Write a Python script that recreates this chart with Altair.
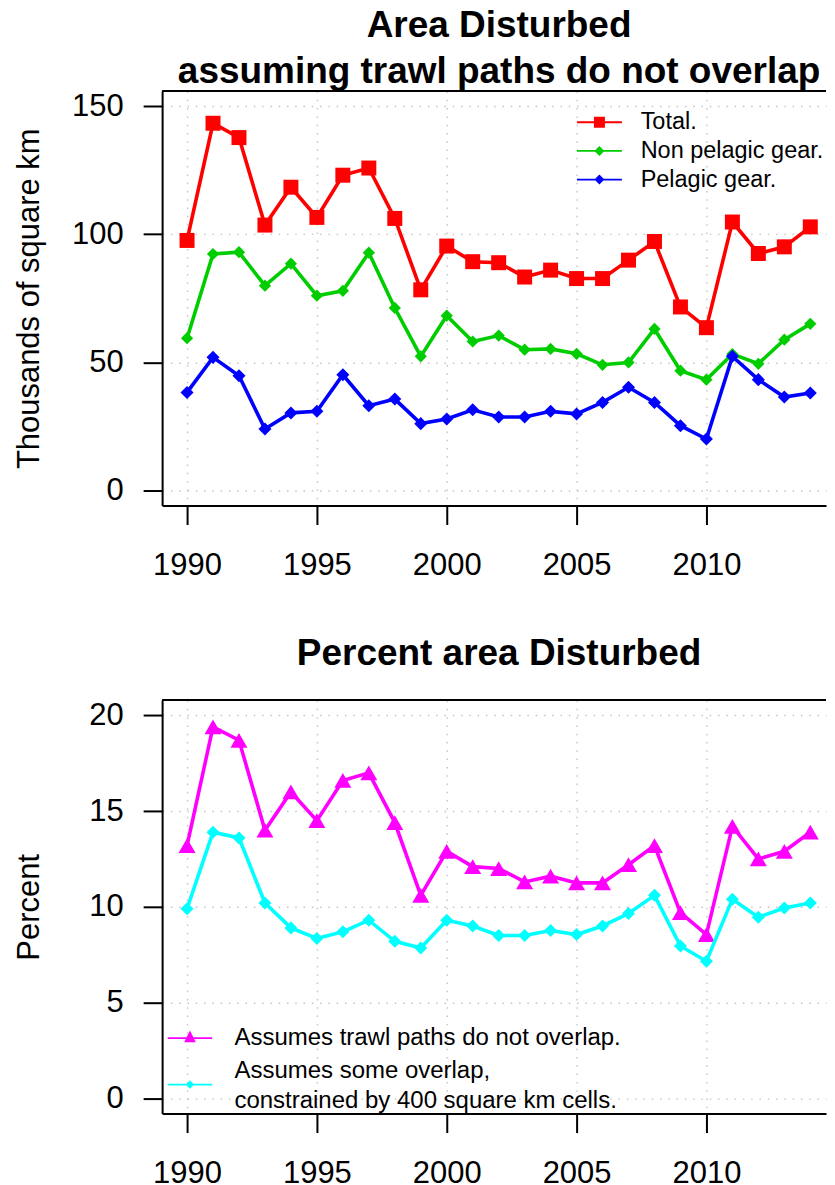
import altair as alt
import pandas as pd

# ---------------- data ----------------
years = list(range(1990, 2015))

total = [97.6, 143.4, 137.8, 103.6, 118.4, 106.6, 123.1, 125.9, 106.2, 78.3,
         95.4, 89.3, 88.9, 83.3, 86.0, 82.7, 82.7, 89.9, 97.2, 71.6,
         63.5, 104.8, 92.5, 95.1, 102.9]
non_pelagic = [59.4, 92.3, 93.0, 79.9, 88.5, 76.0, 77.9, 92.8, 71.2, 52.3,
               68.2, 58.1, 60.4, 54.9, 55.2, 53.3, 49.0, 49.9, 63.0, 46.7,
               43.2, 53.2, 49.4, 58.8, 65.0]
pelagic = [38.2, 51.9, 44.7, 23.9, 30.2, 30.8, 45.1, 33.0, 35.6, 26.0,
           27.8, 31.4, 28.6, 28.6, 30.8, 29.8, 34.3, 40.2, 34.3, 25.2,
           20.0, 52.3, 43.2, 36.4, 38.0]

pct_no_overlap = [13.2, 19.4, 18.7, 14.0, 16.0, 14.5, 16.6, 17.0, 14.4, 10.6,
                  12.9, 12.1, 12.0, 11.3, 11.6, 11.25, 11.25, 12.2, 13.2, 9.7,
                  8.55, 14.2, 12.5, 12.9, 13.9]
pct_overlap = [9.9, 13.9, 13.6, 10.2, 8.9, 8.35, 8.7, 9.3, 8.2, 7.85,
               9.3, 9.0, 8.5, 8.5, 8.76, 8.55, 9.0, 9.65, 10.6, 7.95,
               7.16, 10.4, 9.46, 9.94, 10.2]

top_names = ["Total.", "Non pelagic gear.", "Pelagic gear."]
bottom_names = ["Assumes trawl paths do not overlap.",
                "Assumes some overlap,|\u00a0constrained by 400 square km cells."]

x_ticks = [1990, 1995, 2000, 2005, 2010]
top_y_ticks = [0, 50, 100, 150]
bottom_y_ticks = [0, 5, 10, 15, 20]

top_title = ["Area Disturbed", "assuming trawl paths do not overlap"]
bottom_title = "Percent area Disturbed"
top_y_title = "Thousands of square km"
bottom_y_title = "Percent"

# ---------------- styling ----------------
FONT = "Liberation Sans"
X_DOMAIN = [1989.04, 2014.605]
TOP_Y_DOMAIN = [-6, 156]
BOTTOM_Y_DOMAIN = [-0.8, 20.8]
PLOT_W = 664.7

top_colors = ["#FF0000", "#00CD00", "#0000FF"]
top_shapes = ["square", "diamond", "diamond"]
top_sizes = [225, 150, 170]
top_leg_paths = [
    "M-4.5,-0.18H4.5V0.18H-4.5Z M-1.1,-1.1H1.1V1.1H-1.1Z",
    "M-4.5,-0.18H4.5V0.18H-4.5Z M-1,0L0,-1L1,0L0,1Z",
    "M-4.5,-0.18H4.5V0.18H-4.5Z M-1,0L0,-1L1,0L0,1Z",
]
bottom_colors = ["#FF00FF", "#00FFFF"]
bottom_shapes = ["triangle-up", "diamond"]
bottom_sizes = [290, 170]
bottom_leg_paths = [
    "M-4.44,-0.16H4.44V0.16H-4.44Z M0,-1.55L1.17,0.8L-1.17,0.8Z",
    "M-4.44,2.54H4.44V2.86H-4.44Z M-0.85,2.7L0,1.85L0.85,2.7L0,3.55Z",
]


def make_panel(names, values_list, colors, shapes, sizes, leg_paths,
               y_domain, y_ticks, y_title, title, title_offset,
               leg_x, leg_y, leg_label_offset, leg_row_pad, leg_font, height):
    rows = []
    for name, vals in zip(names, values_list):
        for yr, v in zip(years, vals):
            rows.append({"year": yr, "value": v, "series": name})
    df = pd.DataFrame(rows)

    xs = alt.Scale(domain=X_DOMAIN, nice=False, zero=False)
    ys = alt.Scale(domain=y_domain, nice=False, zero=False)

    x_axis = alt.Axis(values=x_ticks, format="d", title="", grid=True,
                      gridDash=[1.5, 6.8], gridColor="#c4c4c4", gridWidth=1.4,
                      domain=True, domainColor="black", domainWidth=2,
                      ticks=True, tickColor="black", tickWidth=2, tickSize=19,
                      labelFont=FONT, labelFontSize=31, labelColor="black",
                      labelPadding=26.5, labelOverlap=False, labelFlush=False)
    y_axis = alt.Axis(values=y_ticks, format="d", title=y_title, grid=True,
                      gridDash=[1.5, 6.8], gridColor="#c4c4c4", gridWidth=1.4,
                      domain=True, domainColor="black", domainWidth=2,
                      ticks=True, tickColor="black", tickWidth=2, tickSize=19,
                      labelFont=FONT, labelFontSize=31, labelColor="black",
                      labelPadding=20, labelOverlap=False, labelFlush=False,
                      titleFont=FONT, titleFontSize=31, titleFontWeight="normal",
                      titleColor="black", titleX=-132.3, titleBaseline="middle")

    def xy():
        return dict(
            x=alt.X("year:Q", scale=xs, axis=x_axis),
            y=alt.Y("value:Q", scale=ys, axis=y_axis),
        )

    layers = []
    for name, color, shape, size in zip(names, colors, shapes, sizes):
        base = alt.Chart(df).transform_filter(alt.datum.series == name)
        layers.append(base.mark_line(color=color, strokeWidth=3.6).encode(**xy()))
        layers.append(base.mark_point(shape=shape, filled=True, size=size,
                                      color=color, opacity=1,
                                      strokeWidth=0).encode(**xy()))

    # top edge of the plot frame, placed through the scales at the domain ends
    frame_df = pd.DataFrame({"k": [0]})
    frame = alt.Chart(frame_df).mark_rule(color="black", strokeWidth=2).encode(
        x=alt.X(datum=X_DOMAIN[0], type="quantitative", scale=xs, axis=x_axis),
        x2=alt.X2(datum=X_DOMAIN[1]),
        y=alt.Y(datum=y_domain[1], type="quantitative", scale=ys, axis=y_axis),
    )
    layers.append(frame)

    leg = alt.Legend(title=None, orient="none", legendX=leg_x, legendY=leg_y,
                     direction="vertical", symbolSize=100, symbolStrokeWidth=0,
                     symbolOpacity=1, labelFont=FONT, labelFontSize=leg_font,
                     labelColor="black", labelOffset=leg_label_offset,
                     labelLimit=800, rowPadding=leg_row_pad, padding=0,
                     labelBaseline="middle",
                     labelExpr="split(datum.label, '|')")
    ghost = alt.Chart(df).transform_filter("false").mark_point(
        filled=True, opacity=1).encode(
        color=alt.Color("series:N", scale=alt.Scale(domain=names, range=colors),
                        legend=leg),
        shape=alt.Shape("series:N", scale=alt.Scale(domain=names, range=leg_paths),
                        legend=leg),
        **xy(),
    )
    layers.append(ghost)

    t = alt.TitleParams(title, font=FONT, fontSize=37, fontWeight="bold",
                        color="black", anchor="middle", frame="group",
                        baseline="bottom", lineHeight=46, offset=title_offset,
                        dx=5)
    return alt.layer(*layers).properties(width=PLOT_W, height=height, title=t)


top = make_panel(top_names, [total, non_pelagic, pelagic], top_colors,
                 top_shapes, top_sizes, top_leg_paths, TOP_Y_DOMAIN,
                 top_y_ticks, top_y_title, top_title, -38,
                 426.1, 19.5, 29.5, 3.7, 23.5, 415)
bottom = make_panel(bottom_names, [pct_no_overlap, pct_overlap], bottom_colors,
                    bottom_shapes, bottom_sizes, bottom_leg_paths,
                    BOTTOM_Y_DOMAIN, bottom_y_ticks, bottom_y_title,
                    bottom_title, -11, 15.9, 326.5, 32.5, 9, 24, 414)

chart = alt.vconcat(top, bottom, spacing=53.8).resolve_scale(
    x="independent", y="independent", color="independent", shape="independent"
).resolve_legend(
    color="independent", shape="independent"
).properties(
    padding={"left": 5.3, "top": -1.6, "right": 0, "bottom": 0}
).configure(
    style={"guide-label": {"lineHeight": 30}},
    view=alt.ViewConfig(strokeWidth=0),
)

chart.save("out.html", embed_options={"renderer": "svg", "actions": False})
